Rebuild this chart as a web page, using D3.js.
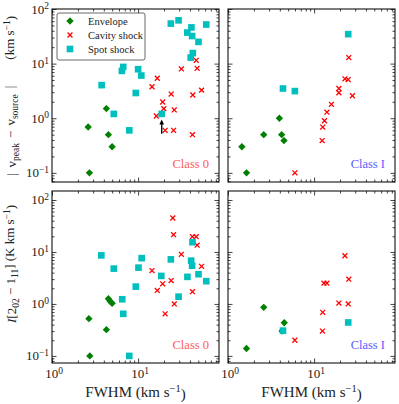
<!DOCTYPE html>
<html><head><meta charset="utf-8">
<script src="https://cdn.jsdelivr.net/npm/d3@7"></script>
<style>
body{margin:0;background:#fff}
text{font-family:"Liberation Serif","DejaVu Serif",serif;fill:#222}
</style>
</head><body>
<svg id="c" width="399" height="404"></svg>
<script>
// ---- data: [FWHM (km/s), value] ----
// Class 0, |v_peak - v_source|
const env0Vel  = [[2.63,0.69],[4.28,1.5],[4.52,0.50],[4.99,0.30],[2.72,0.10]];
const cav0Vel  = [[16.7,5.4],[14.5,3.77],[24.2,2.77],[31.8,8.0],[47.3,11.5],[48.5,8.2],[54.6,3.27],[43.2,2.66],[19.3,1.98],[19.9,1.5],[26.3,1.42],[16.3,1.1],[20.6,0.6],[25.8,0.6],[42.8,0.50]];
const spot0Vel = [[3.77,4.04],[5.22,1.2],[7.9,0.60],[6.48,7.36],[6.72,8.7],[10.0,7.9],[10.9,6.05],[9.4,2.9],[18.8,1.2],[24.0,54],[29.5,62],[37.3,37],[41.6,46],[42.4,32],[50.3,25],[61.9,52],[43.2,15.6],[40.8,12.9]];
const arrow0Vel = [[18.8,0.52,0.95]]; // x, from, to
// Class I, |v_peak - v_source|
const envIVel  = [[1.45,0.30],[1.64,0.10],[2.6,0.50],[3.95,1.0],[4.2,0.50],[4.47,0.39]];
const cavIVel  = [[5.98,0.1],[12.4,0.39],[12.6,0.69],[13.2,0.9],[14.1,1.29],[15.9,1.8],[19.4,2.93],[19.4,3.5],[22.8,5.26],[24.9,5.1],[27.9,2.58],[25.3,12.9]];
const spotIVel = [[4.35,3.5],[5.98,3.14],[24.9,34.6]];
// Class 0, integrated intensity
const env0Int  = [[2.68,0.52],[2.75,0.10],[4.28,0.32],[4.52,1.26],[4.73,1.12],[4.99,1.03]];
const cav0Int  = [[25.3,45],[25.8,21.5],[42.8,19.7],[47.3,19.7],[48.5,13.5],[31.8,9.0],[14.5,4.38],[54.6,5.3],[24.2,2.82],[19.3,2.44],[16.7,1.82],[42.8,1.72],[26.3,1.0],[20.6,0.645]];
const spot0Int = [[3.74,8.6],[5.22,4.78],[6.54,1.23],[6.72,0.645],[7.9,0.10],[9.4,2.15],[10.1,4.99],[11.0,7.6],[18.6,3.46],[24.0,7.2],[29.5,1.38],[37.4,3.32],[41.3,6.8],[42.4,5.45],[42.8,15.4],[50.3,3.73],[61.9,2.74]];
// Class I, integrated intensity
const envIInt  = [[1.64,0.139],[2.6,0.86],[4.5,0.435],[4.24,0.30]];
const cavIInt  = [[5.98,0.2],[12.5,0.30],[12.6,0.69],[19.4,1.04],[24.9,1.0],[13.0,2.51],[14.1,2.51],[25.3,3.0],[22.8,8.45]];
const spotIInt = [[4.35,0.306],[24.9,0.44]];

const seriesNames = ["Envelope","Cavity shock","Spot shock"];
const classLabels = ["Class 0","Class I"];
const xTickLabels = [1,10];
const yTickLabels = [0.1,1,10,100];

const svg = d3.select("#c");
const xDomain = [1, 87];
const rows = [
  {y0:9, y1:182, dom:[0.068,100]},
  {y0:191, y1:363, dom:[0.073,149]}
];
const cols = [{x0:52,x1:219},{x0:228,x1:395}];

const panels = [
  {r:0,c:0,env:env0Vel,cav:cav0Vel,spot:spot0Vel,arrows:arrow0Vel,cls:0,legend:true},
  {r:0,c:1,env:envIVel,cav:cavIVel,spot:spotIVel,arrows:[],cls:1},
  {r:1,c:0,env:env0Int,cav:cav0Int,spot:spot0Int,arrows:[],cls:0},
  {r:1,c:1,env:envIInt,cav:cavIInt,spot:spotIInt,arrows:[],cls:1}
];

const colors = {env:"#007f00", cav:"#ff0000", spot:"#00bfbf"};
const clsColors = ["#ff5a5a","#5a5aff"];

const diamond = d3.symbol().type(d3.symbolSquare).size(27);
const square = d3.symbol().type(d3.symbolSquare).size(44);
const timesType = {draw(ctx,size){const r=Math.sqrt(size)/2;ctx.moveTo(-r,-r);ctx.lineTo(r,r);ctx.moveTo(-r,r);ctx.lineTo(r,-r);}};
const times = d3.symbol().type(timesType).size(24);

function minors(dom){
  const out=[];
  for(let e=-3;e<=3;e++) for(let m=2;m<=9;m++){const v=m*Math.pow(10,e); if(v>dom[0]&&v<dom[1]) out.push(v);}
  return out;
}
function majors(dom,list){return list.filter(v=>v>=dom[0]*0.999&&v<=dom[1]*1.001);}

function powLabel(sel, v, anchor){
  const e = Math.round(Math.log10(v));
  sel.attr("text-anchor",anchor);
  sel.append("tspan").text("10");
  sel.append("tspan").attr("dy","-0.45em").attr("font-size","9.5px").text(e<0?"\u2212"+(-e):String(e));
}

panels.forEach(p=>{
  const R=rows[p.r], C=cols[p.c];
  const x=d3.scaleLog().domain(xDomain).range([C.x0,C.x1]);
  const y=d3.scaleLog().domain(R.dom).range([R.y1,R.y0]);
  const g=svg.append("g");

  const xMaj=majors(xDomain,xTickLabels), yMaj=majors(R.dom,yTickLabels);
  const xMin=minors(xDomain), yMin=minors(R.dom);
  const mk=(axis,vals,size)=>axis.tickValues(vals).tickSize(-size).tickFormat("");
  const xAx=[[d3.axisBottom,`translate(0,${R.y1})`],[d3.axisTop,`translate(0,${R.y0})`]];
  const yAx=[[d3.axisLeft,`translate(${C.x0},0)`],[d3.axisRight,`translate(${C.x1},0)`]];
  xAx.forEach(([f,t])=>{
    g.append("g").attr("transform",t).call(mk(f(x),xMaj,4.5)).call(s=>s.select(".domain").remove());
    g.append("g").attr("transform",t).call(mk(f(x),xMin,2.5)).call(s=>s.select(".domain").remove());
  });
  yAx.forEach(([f,t])=>{
    g.append("g").attr("transform",t).call(mk(f(y),yMaj,4.5)).call(s=>s.select(".domain").remove());
    g.append("g").attr("transform",t).call(mk(f(y),yMin,2.5)).call(s=>s.select(".domain").remove());
  });
  g.selectAll(".tick line").attr("stroke","#111").attr("stroke-width",0.8);

  g.append("rect").attr("x",C.x0).attr("y",R.y0).attr("width",C.x1-C.x0).attr("height",R.y1-R.y0)
    .attr("fill","none").attr("stroke","#111").attr("stroke-width",1.1);

  // tick labels
  if(p.c===0){
    yMaj.forEach(v=>{
      g.append("text").attr("x",C.x0-3).attr("y",y(v)+4.5).attr("font-size","13px").call(s=>powLabel(s,v,"end"));
    });
  }
  if(p.r===1){
    xMaj.forEach(v=>{
      g.append("text").attr("x",x(v)+2).attr("y",R.y1+15).attr("font-size","13px").call(s=>powLabel(s,v,"middle"));
    });
  }

  const plot=g.append("g");
  plot.selectAll(".env").data(p.env).join("path")
    .attr("d",diamond).attr("transform",d=>`translate(${x(d[0])},${y(d[1])}) rotate(45)`).attr("fill",colors.env);
  plot.selectAll(".cav").data(p.cav).join("path")
    .attr("d",times).attr("transform",d=>`translate(${x(d[0])},${y(d[1])})`).attr("fill","none").attr("stroke",colors.cav).attr("stroke-width",1.3);
  plot.selectAll(".spot").data(p.spot).join("path")
    .attr("d",square).attr("transform",d=>`translate(${x(d[0])},${y(d[1])})`).attr("fill",colors.spot);

  p.arrows.forEach(a=>{
    const ax=x(a[0]), yb=y(a[1]), yt=y(a[2]);
    plot.append("line").attr("x1",ax).attr("x2",ax).attr("y1",yb).attr("y2",yt+4).attr("stroke","#000").attr("stroke-width",1.3);
    plot.append("path").attr("d",`M${ax},${yt}L${ax-2.3},${yt+5}L${ax+2.3},${yt+5}Z`).attr("fill","#000");
  });

  g.append("text").attr("x",C.x1-10).attr("y",R.y1-14).attr("text-anchor","end").attr("font-size","12.5px")
    .style("fill",clsColors[p.cls]).text(classLabels[p.cls]);

  if(p.legend){
    const lg=g.append("g");
    lg.append("rect").attr("x",C.x0+5).attr("y",R.y0+4).attr("width",88).attr("height",47).attr("rx",2)
      .attr("fill","#fff").attr("stroke","#444").attr("stroke-width",0.8);
    seriesNames.forEach((n,i)=>{
      const cy=R.y0+12+i*14, cx=C.x0+18;
      if(i===0) lg.append("path").attr("d",diamond).attr("transform",`translate(${cx},${cy}) rotate(45)`).attr("fill",colors.env);
      if(i===1) lg.append("path").attr("d",times).attr("transform",`translate(${cx},${cy})`).attr("stroke",colors.cav).attr("stroke-width",1.3).attr("fill","none");
      if(i===2) lg.append("path").attr("d",square).attr("transform",`translate(${cx},${cy})`).attr("fill",colors.spot);
      lg.append("text").attr("x",C.x0+36).attr("y",cy+3.5).attr("font-size","10.5px").text(n);
    });
  }
});

// axis labels: parts = [text, kind, dx]
function yLabel(cx, cy, parts){
  const t=svg.append("text").attr("transform",`translate(${cx},${cy}) rotate(-90)`).attr("text-anchor","middle").attr("font-size","13px");
  parts.forEach(([s,kind,dx])=>{
    const ts=t.append("tspan").text(s);
    if(dx) ts.attr("dx",dx);
    if(kind==="sub") ts.attr("font-size","9.5px").attr("dy","0.3em");
    if(kind==="base") ts.attr("dy","-0.3em");
    if(kind==="sup") ts.attr("font-size","9.5px").attr("dy","-0.4em");
    if(kind==="supback") ts.attr("dy","0.4em");
    if(kind==="it") ts.attr("font-style","italic");
  });
  return t;
}
yLabel(16, 96, [["|",""],["v","",6],["peak","sub"],["\u2212","base",5],["v","",5],["source","sub"],["|","base",6],["(km s","",26],["\u22121","sup"],[")","supback"]]);
yLabel(16, 264, [["I","it"],["[2",""],["02","sub"],[" \u2212 1","base"],["11","sub"],["] (K km s","base"],["\u22121","sup"],[")","supback"]]);

[135.5, 311.5].forEach(cx=>{
  const t=svg.append("text").attr("x",cx).attr("y",397).attr("text-anchor","middle").attr("font-size","15px");
  t.append("tspan").text("FWHM (km s");
  t.append("tspan").attr("font-size","10.5px").attr("dy","-0.5em").text("\u22121");
  t.append("tspan").attr("dy","0.5em").text(")");
});
</script>
</body></html>
